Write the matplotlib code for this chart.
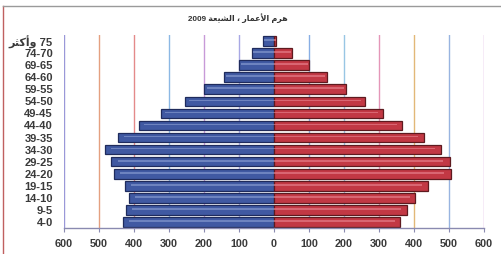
import matplotlib
matplotlib.use("Agg")
import matplotlib.pyplot as plt
from matplotlib.lines import Line2D
import numpy as np

# ---- data (bottom row first) ----
age_groups = ["4-0", "9-5", "14-10", "19-15", "24-20", "29-25", "34-30", "39-35",
              "44-40", "49-45", "54-50", "59-55", "64-60", "69-65", "74-70",
              "\ufeae\ufe9c\ufedb\ufe83\ufeed 75"]  # "75 وأكثر" (visual order)
left_values = [432, 422, 415, 427, 458, 465, 484, 446, 386, 324, 253, 199, 142, 99, 62, 30]
right_values = [359, 379, 404, 439, 507, 503, 478, 430, 367, 311, 259, 207, 152, 101, 52, 5]
x_ticks = [-600, -500, -400, -300, -200, -100, 0, 100, 200, 300, 400, 500, 600]
x_tick_labels = ["600", "500", "400", "300", "200", "100", "0", "100", "200", "300", "400", "500", "600"]
# "هرم الأعمار ، الشيعة 2009" in visual (left-to-right) order, presentation forms
title_text = ("2009 \ufe94\ufecc\ufef4\ufeb8\ufedf\ufe8d \u060c "
              "\ufead\ufe8e\ufee4\ufecb\ufef7\ufe8d \ufee1\ufeae\ufeeb")

grid_colors = {-600: "#9a98d8", -500: "#e4a080", -400: "#e48a8a", -300: "#8cb8e4",
               -200: "#c89ad8", -100: "#a8a8e4", 100: "#88aee4", 200: "#98c6e4",
               300: "#e496b8", 400: "#e2b878", 500: "#98b4e0", 600: "#d49ad8"}

W, H = 502, 254
fig = plt.figure(figsize=(W / 100, H / 100), dpi=100)
fig.patch.set_facecolor("white")

ax = fig.add_axes([64 / W, 26 / H, 420 / W, 193 / H])
y = np.arange(len(age_groups))
left = -np.array(left_values)
right = np.array(right_values)

for gx, c in grid_colors.items():
    ax.axvline(gx, color=c, lw=1.0, zorder=0)

bh = 0.8
ax.barh(y, left, height=bh, color="#4059a2", edgecolor="#1f2b5c", linewidth=0.9, zorder=2)
ax.barh(y, right, height=bh, color="#c23844", edgecolor="#5e1a1f", linewidth=0.9, zorder=2)
# highlight strips
ax.barh(y + 0.08, left * 0.96, height=0.14, color="#8196cc", linewidth=0, zorder=3, alpha=0.7)
ax.barh(y + 0.08, right * 0.96, height=0.14, color="#e47b86", linewidth=0, zorder=3, alpha=0.7)

ax.set_xlim(-600, 600)
ax.set_ylim(-0.5, len(age_groups) - 0.5)
ax.set_xticks(x_ticks)
ax.set_xticklabels(x_tick_labels)
ax.set_yticks(y)
ax.set_yticklabels(age_groups)

for s in ["top", "right", "left"]:
    ax.spines[s].set_visible(False)
ax.spines["bottom"].set_color("#8a8ab0")
ax.spines["bottom"].set_linewidth(1.0)
ax.tick_params(axis="x", length=3, color="#8a8ab0", pad=5, labelsize=7.8, labelcolor="#3a3a3a")
ax.tick_params(axis="y", length=0, pad=8, labelsize=8, labelcolor="#3a3a3a")
for lab in ax.get_xticklabels() + ax.get_yticklabels():
    lab.set_family(["Liberation Sans", "DejaVu Sans"])
    lab.set_fontweight("bold")

fig.text(238 / W, 1 - 18 / H, title_text, ha="center", va="center", fontsize=5.8,
         fontweight="bold", color="#333333", family=["Liberation Sans", "DejaVu Sans"])

# chart frame (left and top edges visible in the crop)
fig.add_artist(Line2D([3.5 / W, 3.5 / W], [0, 1 - 6 / H], color="#c06060", lw=1.0))
fig.add_artist(Line2D([3.5 / W, 1], [1 - 6 / H, 1 - 6 / H], color="#9a9a9a", lw=1.0))

fig.savefig("out.png", dpi=100)
